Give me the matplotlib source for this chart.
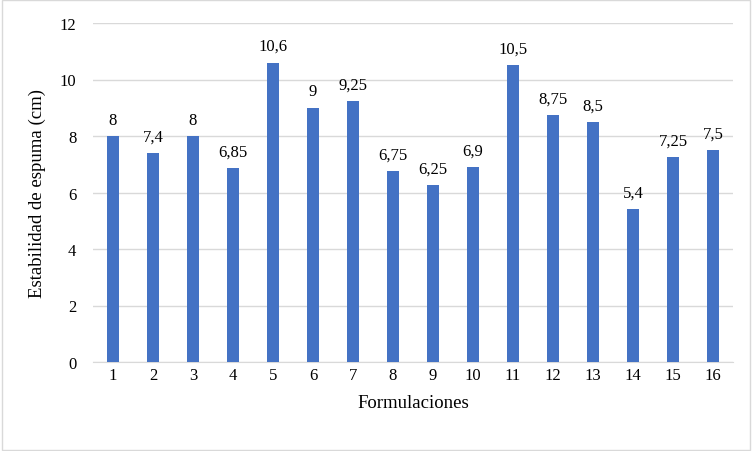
import matplotlib
matplotlib.use("Agg")
import matplotlib.pyplot as plt
from matplotlib.patches import Rectangle

categories = [str(i) for i in range(1, 17)]
values = [8, 7.4, 8, 6.85, 10.6, 9, 9.25, 6.75, 6.25, 6.9, 10.5, 8.75, 8.5, 5.4, 7.25, 7.5]
labels = ["8", "7,4", "8", "6,85", "10,6", "9", "9,25", "6,75", "6,25", "6,9", "10,5", "8,75", "8,5", "5,4", "7,25", "7,5"]
yticks = [0, 2, 4, 6, 8, 10, 12]

plt.rcParams["font.family"] = "Liberation Serif"
fig = plt.figure(figsize=(7.52, 4.52), dpi=100)
ax = fig.add_axes([93/752, 1-363/452, 640/752, 339/452])
x = range(len(categories))
ax.bar(x, values, width=0.3, color="#4472C4", zorder=3)
for xi, v, l in zip(x, values, labels):
    ax.text(xi, v + 0.3, l, ha="center", va="bottom", fontsize=12, color="#000000")
ax.set_xlim(-0.5, 15.5)
ax.set_ylim(0, 12)
ax.set_yticks(yticks)
ax.set_xticks(list(x))
ax.set_xticklabels(categories)
ax.tick_params(length=0, labelsize=12, colors="#000000")
ax.tick_params(axis="y", pad=12)
ax.grid(axis="y", color="#D9D9D9", linewidth=1, zorder=0)
for s in ["top", "right", "left"]:
    ax.spines[s].set_visible(False)
ax.spines["bottom"].set_color("#D9D9D9")
ax.set_xlabel("Formulaciones", fontsize=13.5, labelpad=8)
ax.set_ylabel("Estabilidad de espuma (cm)", fontsize=13.5, labelpad=10)
fig.patches.append(Rectangle((0.002, 0.002), 0.996, 0.996, transform=fig.transFigure,
                             fill=False, edgecolor="#D9D9D9", linewidth=1))
fig.savefig("out.png", dpi=100)
